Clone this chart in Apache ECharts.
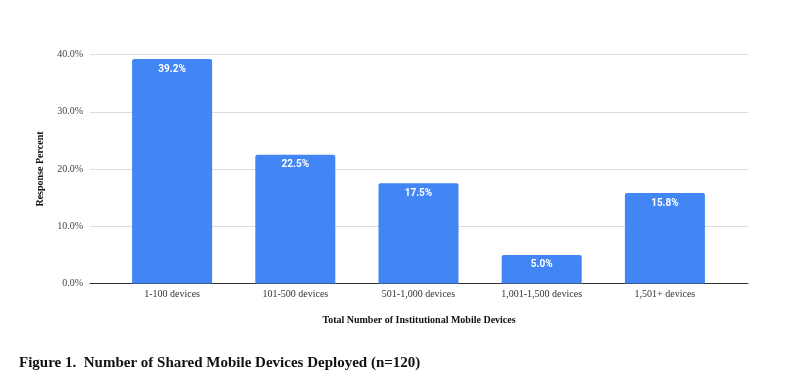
<!DOCTYPE html>
<html><head><meta charset="utf-8">
<script src="https://cdn.jsdelivr.net/npm/echarts@6/dist/echarts.min.js"></script>
<style>html,body{margin:0;padding:0;background:#fff}#c{width:791px;height:382px}</style>
</head><body><div id="c"></div>
<script>
const categories = ['1-100 devices','101-500 devices','501-1,000 devices','1,001-1,500 devices','1,501+ devices'];
const values = [39.2, 22.5, 17.5, 5.0, 15.8];
const yTicks = [0, 10, 20, 30, 40];

const serif = '"Liberation Serif", "DejaVu Serif", serif';
const chart = echarts.init(document.getElementById('c'));
chart.setOption({
  animation: false,
  title: {
    text: 'Figure 1.  Number of Shared Mobile Devices Deployed (n=120)',
    left: 14, top: 351,
    textStyle: { fontFamily: serif, fontWeight: 'bold', fontSize: 15, color: '#111' }
  },
  grid: [
    { left: 90, right: 43, top: 54.5, bottom: 98.5 },
    { left: 110.5, right: 64.5, top: 54.5, bottom: 98.5 }
  ],
  xAxis: [
    { type: 'category', gridIndex: 0, data: [''], axisTick: {show: false}, axisLabel: {show: false},
      axisLine: { lineStyle: { color: '#333', width: 1 } },
      name: 'Total Number of Institutional Mobile Devices', nameLocation: 'middle', nameGap: 32,
      nameTextStyle: { fontFamily: serif, fontWeight: 'bold', fontSize: 10, color: '#111' } },
    { type: 'category', gridIndex: 1, data: categories, axisTick: {show: false},
      axisLine: { show: false },
      axisLabel: { fontFamily: serif, fontSize: 10, color: '#333', margin: 6 } }
  ],
  yAxis: [
    { type: 'value', gridIndex: 0, min: yTicks[0], max: yTicks[yTicks.length - 1], interval: 10,
      axisLabel: { formatter: v => v.toFixed(1) + '%', fontFamily: serif, fontSize: 10, color: '#444', margin: 7 },
      splitLine: { lineStyle: { color: '#dcdcdc' } },
      axisLine: {show: false}, axisTick: {show: false},
      name: 'Response Percent', nameLocation: 'middle', nameGap: 45,
      nameTextStyle: { fontFamily: serif, fontWeight: 'bold', fontSize: 10, color: '#111' } },
    { type: 'value', gridIndex: 1, min: yTicks[0], max: yTicks[yTicks.length - 1], interval: 10, show: false, splitLine: {show:false} }
  ],
  series: [{
    type: 'bar', xAxisIndex: 1, yAxisIndex: 1, data: values, barWidth: 80,
    itemStyle: { color: '#4285F4', borderRadius: [2, 2, 0, 0] },
    label: { show: true, position: 'insideTop', distance: 5, formatter: p => p.value.toFixed(1) + '%',
      color: '#fff', fontWeight: 'bold', fontSize: 10, fontFamily: 'Roboto, Arial, sans-serif' }
  }]
});
</script></body></html>
